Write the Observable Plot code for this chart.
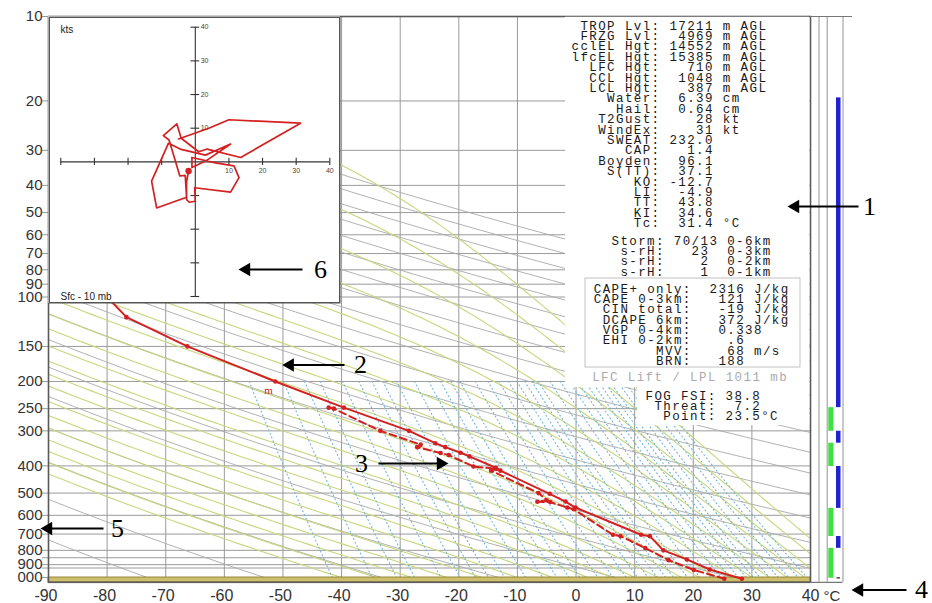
<!DOCTYPE html>
<html>
<head>
<meta charset="utf-8">
<script src="https://cdn.jsdelivr.net/npm/d3@7"></script>
<script src="https://cdn.jsdelivr.net/npm/@observablehq/plot@0.6"></script>
<style>
  html, body { margin:0; padding:0; background:#fff; }
  #wrap { position:relative; width:932px; height:603px; overflow:hidden; background:#fff; }
  #wrap > svg { position:absolute; left:0; top:0; }
  #wrap g[font-family*="Mono"] text { letter-spacing: 1.4px; }
</style>
</head>
<body>
<div id="wrap"></div>
<script>
// ================= DATA =================
const tempTicksC = [-90,-80,-70,-60,-50,-40,-30,-20,-10,0,10,20,30,40];
const tempTickLabels = ["-90","-80","-70","-60","-50","-40","-30","-20","-10","0","10","20","30","40"];
const presTicks = [10,20,30,40,50,60,70,80,90,100,150,200,250,300,400,500,600,700,800,900,1000];
const presTickLabels = ["10","20","30","40","50","60","70","80","90","100","150","200","250","300","400","500","600","700","800","900","000"];
const presExtraGrid = [850, 925];

// environmental temperature profile (solid red)
const envP = [1010, 936, 862, 800, 712, 704, 563, 536, 503, 416, 406, 370, 359, 343, 332, 300, 248, 200, 150, 118, 100];
const envT = [28.3, 22.8, 18.9, 14.9, 12.6, 11.1, -0.1, -1.8, -4.5, -12.9, -13.7, -18.2, -19.7, -22.3, -24.0, -28.5, -39.6, -51.3, -66.3, -76.7, -80.0];
// dew point profile (dashed red)
const dewP = [1010, 940, 867, 785, 712, 704, 571, 563, 538, 537, 530, 500, 416, 410, 402, 366, 360, 343, 336, 300, 250, 248];
const dewT = [25.3, 20.1, 15.8, 11.8, 7.6, 6.3, -0.4, -1.5, -4.4, -6.6, -5.0, -6.4, -14.5, -13.6, -17.5, -21.7, -23.1, -27.1, -26.5, -33.4, -41.3, -42.2];

// diagram isopleths
const dryAdiabatThetaK = [200,220,240,260,280,300,320,340,360,380,400,420,440,460,480,500,520,540,560,580,600];
const moistAdiabatThetaWC = [-40,-34,-28,-22,-16,-10,-4,2,6,10,14,18,21,24,27,30,33,36,39,42,45,48];
const mixingRatioGkg = [0.1,0.2,0.3,0.4,0.6,0.8,1,1.2,1.5,2,2.5,3,3.5,4,5,6,7,8,9,10,11,12,14,16,18,20,22,24,26,28,30,33,36,40,44,48];

// hodograph (kts)
const hodoU = [-2.0,-2.6,-2.6,-1.8,0.0,-0.2,10.5,13.0,11.5,6.0,-1.0,-1.0,3.5,10.5,3.0,-4.5,-8.0,-13.0,-11.5,-2.6,-3.0,-4.6,-7.8,-9.5,-5.5,-4.2,1.0,3.5,13.5,31.3,10.0,4.0,-5.0];
const hodoV = [-2.7,-6.0,-11.2,-12.0,-11.7,-7.7,-9.0,-4.7,-1.2,-0.3,1.3,-1.7,0.5,5.3,2.0,3.8,5.5,-5.7,-13.7,-10.5,-4.0,-4.2,6.5,7.8,11.3,7.0,3.0,3.8,1.3,11.5,12.5,10.0,6.8];
const hodoAxisValues = [10,20,30,40];
const hodoAxisLabels = ["10","20","30","40"];

// right-hand column bars (pressure ranges, mb)
const blueTopP = [19.5, 301, 402, 714];
const blueBotP = [248, 332, 567, 787];
const greenTopP = [248, 332, 567, 787];
const greenBotP = [301, 402, 714, 1006];

// text panels
const statsMain = [
" TROP Lvl: 17211 m AGL",
" FRZG Lvl:  4969 m AGL",
"cclEL Hgt: 14552 m AGL",
"lfcEL Hgt: 15385 m AGL",
"  LFC Hgt:   710 m AGL",
"  CCL Hgt:  1048 m AGL",
"  LCL Hgt:   387 m AGL",
"    Water:  6.39 cm",
"     Hail:  0.64 cm",
"   T2Gust:    28 kt",
"   WindEx:    31 kt",
"    SWEAT: 232.0",
"      CAP:   1.4",
"   Boyden:  96.1",
"    S(TT):  37.1",
"       KO: -12.7",
"       LI:  -4.9",
"       TT:  43.8",
"       KI:  34.6",
"       Tc:  31.4 °C"];
const statsStorm = [
"Storm: 70/13 0-6km",
" s-rH:   23  0-3km",
" s-rH:    2  0-2km",
" s-rH:    1  0-1km"];
const statsCape = [
"CAPE+ only:  2316 J/kg",
"CAPE 0-3km:   121 J/kg",
" CIN total:   -19 J/kg",
" DCAPE 6km:   372 J/kg",
" VGP 0-4km:   0.338",
" EHI 0-2km:    .6",
"       MVV:    68 m/s",
"       BRN:   188"];
const liftLine = ["LFC Lift / LPL 1011 mb"];
const statsFog = [
"FOG FSI: 38.8",
" Threat:  7.2",
"  Point: 23.5°C"];
const calloutLabels = ["1","2","3","4","5","6"];

// ================= BUILD =================
const RED = "#d42020";
const SANS = "'Liberation Sans', Arial, sans-serif";
const MONO = "'Liberation Mono', 'DejaVu Sans Mono', monospace";
const xs = d3.scaleLinear().domain([-90,40]).range([48,810]);
const cx = px => xs.invert(px);
const xLabel = new Map(tempTicksC.map((d,i)=>[d, tempTickLabels[i]]));
const pLabel = new Map(presTicks.map((d,i)=>[d, presTickLabels[i]]));

const env = envP.map((p,i)=>({p, t: envT[i]}));
const dew = dewP.map((p,i)=>({p, t: dewT[i]}));

// dry adiabats
const dry = [];
dryAdiabatThetaK.forEach((th,id)=>{
  for (let i=0;i<=90;i++){ const p = 1040*Math.pow(10/1040, i/90); dry.push({id, p, t: th*Math.pow(p/1000,0.2857)-273.15}); }
});
// pseudo-adiabats
function satVap(tc){ return 6.112*Math.exp(17.67*tc/(tc+243.5)); }
function moistRate(T, L){
  const p = Math.exp(L), e = satVap(T-273.15);
  const rs = 0.622*e/Math.max(p-e, 0.3*p);
  return (287.04*T + 2.501e6*rs)/(1005.7 + 2.501e6*2.501e6*rs*0.622/(287.04*T*T));
}
const moist = [];
moistAdiabatThetaWC.forEach((tw,id)=>{
  const down = [];
  let Td = tw+273.15, Ld = Math.log(1000); const hd = Math.log(1.04)/4;
  for (let k=0;k<4;k++){ Td += hd*moistRate(Td,Ld); Ld += hd; down.push({id, p:Math.exp(Ld), t:Td-273.15}); }
  down.reverse().forEach(d=>moist.push(d));
  moist.push({id, p:1000, t:tw});
  let T = tw+273.15, L = Math.log(1000); const h = -0.01; let s = 0;
  while (L > Math.log(10)) {
    if (satVap(T-273.15) > 0.5*Math.exp(L)) break;
    const k1=moistRate(T,L), k2=moistRate(T+h*k1/2,L+h/2), k3=moistRate(T+h*k2/2,L+h/2), k4=moistRate(T+h*k3,L+h);
    T += h*(k1+2*k2+2*k3+k4)/6; L += h; s++;
    if (!isFinite(T) || T < 150) break;
    if (s%3===0) moist.push({id, p:Math.exp(L), t:T-273.15});
  }
});
// mixing ratio lines
const mix = [];
mixingRatioGkg.forEach((w,id)=>{
  for (let i=0;i<=30;i++){ const p = 200*Math.pow(1040/200, i/30); const e = w*p/(622+w); const L = Math.log(e/6.112); mix.push({id, p, t:243.5*L/(17.67-L)}); }
});

const blue = blueTopP.map((p,i)=>({top:p, bot:blueBotP[i]}));
const green = greenTopP.map((p,i)=>({top:p, bot:greenBotP[i]}));

const main = Plot.plot({
  width:932, height:603,
  marginLeft:48, marginRight:122, marginTop:16, marginBottom:21.2,
  x:{domain:[-90,40], axis:null},
  y:{type:"log", domain:[10,1040], reverse:true, axis:null},
  style:{background:"#fff", fontFamily:SANS, overflow:"visible"},
  marks:[
    Plot.gridX(tempTicksC.slice(1,-1), {stroke:"#9a9a9a", strokeOpacity:1, strokeWidth:1}),
    Plot.gridY(presTicks.concat(presExtraGrid), {stroke:"#9a9a9a", strokeOpacity:1, strokeWidth:1}),
    Plot.ruleY(presTicks.concat(presExtraGrid), {x1:()=>cx(42), x2:()=>-90, stroke:"#9a9a9a"}),
    Plot.line(dry, {x:"t", y:"p", z:"id", stroke:"#a9a9a9", strokeWidth:0.9, clip:true}),
    Plot.line(moist, {x:"t", y:"p", z:"id", stroke:"#c7d77c", strokeWidth:1.1, clip:true}),
    Plot.line(mix, {x:"t", y:"p", z:"id", stroke:"#6fb4da", strokeWidth:1.1, strokeDasharray:"1,3", clip:true}),
    Plot.rect([0], {x1:()=>-90, x2:()=>40, y1:()=>1000, y2:()=>1040, fill:"#cdbf6c", stroke:"#958838", strokeWidth:1}),
    Plot.line(env, {x:"t", y:"p", stroke:RED, strokeWidth:2}),
    Plot.dot(env, {x:"t", y:"p", r:2.3, fill:RED}),
    Plot.line(dew, {x:"t", y:"p", stroke:RED, strokeWidth:2, strokeDasharray:"7,4"}),
    Plot.dot(dew, {x:"t", y:"p", r:2.3, fill:RED}),
    Plot.frame({stroke:"#5a5a5a", strokeWidth:1.6}),
    // right column
    Plot.ruleX([cx(818.5), cx(826.7), cx(842.5)], {y1:()=>10, y2:()=>1040, stroke:"#9d9d9d", strokeWidth:1.1}),
    Plot.ruleY([10], {x1:()=>40, x2:()=>cx(852), stroke:"#777", strokeWidth:1.2}),
    Plot.ruleY([1040], {x1:()=>40, x2:()=>cx(842.5), stroke:"#777", strokeWidth:1.2}),
    Plot.rect(blue, {x1:()=>cx(836), x2:()=>cx(840.5), y1:"top", y2:"bot", fill:"#2121cf"}),
    Plot.rect(green, {x1:()=>cx(828.3), x2:()=>cx(833.5), y1:"top", y2:"bot", fill:"#3fe03f"}),
    Plot.rect([0], {x1:()=>cx(836.5), x2:()=>cx(840), y1:()=>1002, y2:()=>1012, fill:"#222"}),
    // axis labels
    Plot.text(tempTicksC.filter(d=>d!==0), {x:d=>d, y:()=>1040, dy:13.5, dx:9, textAnchor:"end", text:d=>xLabel.get(d), fontSize:16, fill:"#333", lineAnchor:"middle"}),
    Plot.text([0], {x:d=>d, y:()=>1040, dy:13.5, text:d=>xLabel.get(d), fontSize:16, fill:"#333", lineAnchor:"middle"}),
    Plot.text(presTicks, {x:()=>-90, y:d=>d, dx:-6, textAnchor:"end", text:d=>pLabel.get(d), fontSize:15, fill:"#333", lineAnchor:"middle"})
  ]
});

const hodoPts = hodoU.map((u,i)=>({u, v:hodoV[i]}));
const kTicks = [-40,-30,-20,-10,10,20,30,40];
const hodo = Plot.plot({
  width:292, height:287, margin:0,
  x:{domain:[-40,40], range:[12.3,281.3], axis:null},
  y:{domain:[-40,40], range:[280,10.7], axis:null},
  style:{background:"#fff", fontFamily:SANS, overflow:"visible"},
  marks:[
    Plot.frame({stroke:"#555", strokeWidth:1.5, inset:0.75}),
    Plot.ruleY([0], {x1:()=>-40, x2:()=>40, stroke:"#333", strokeWidth:1.1}),
    Plot.ruleX([0], {y1:()=>-40, y2:()=>40, stroke:"#333", strokeWidth:1.1}),
    Plot.ruleX(kTicks, {y1:()=>-1.05, y2:()=>1.05, stroke:"#333", strokeWidth:1.1}),
    Plot.ruleY(kTicks, {x1:()=>-1.3, x2:()=>1.3, stroke:"#333", strokeWidth:1.1}),
    Plot.text(hodoAxisValues, {x:d=>d, y:()=>-2.7, text:(d,i)=>hodoAxisLabels[i], fontSize:7, fill:"#444"}),
    Plot.text(hodoAxisValues, {x:()=>1.6, y:d=>d, text:(d,i)=>hodoAxisLabels[i], textAnchor:"start", fontSize:7, fill:"#444"}),
    Plot.line(hodoPts, {x:"u", y:"v", stroke:RED, strokeWidth:1.7}),
    Plot.dot([hodoPts[0]], {x:"u", y:"v", r:3.2, fill:RED}),
    Plot.text(["kts"], {frameAnchor:"top-left", dx:12, dy:13, textAnchor:"start", lineAnchor:"middle", fontSize:10, fill:"#222"}),
    Plot.text(["Sfc - 10 mb"], {frameAnchor:"bottom-left", dx:12, dy:-7, textAnchor:"start", lineAnchor:"middle", fontSize:10, fill:"#222"})
  ]
});
hodo.style.left = "48px"; hodo.style.top = "16px";

// overlay: panels, statistics text and callouts (pixel coordinates)
const FS = 12.5;
const nb = s => s.replace(/ /g, "\u00a0");
function monoBlock(lines, x0, y0, step, fill){
  return Plot.text(lines, {x:()=>x0, y:(d,i)=>y0+i*step, text:d=>nb(d), textAnchor:"start", lineAnchor:"middle", fontFamily:MONO, fontSize:FS, fill: fill || "#1a1a1a"});
}
const callouts = [
  {n:calloutLabels[0], tail:858, tip:787,   y:206,   nx:869},
  {n:calloutLabels[1], tail:344, tip:281.7, y:364.5, nx:360},
  {n:calloutLabels[2], tail:378, tip:448,   y:463,   nx:361},
  {n:calloutLabels[3], tail:906, tip:851,   y:589.5, nx:921},
  {n:calloutLabels[4], tail:103, tip:40,    y:528,   nx:117},
  {n:calloutLabels[5], tail:302, tip:238,   y:269,   nx:320}
];
const HEAD = 7.8;
const overlay = Plot.plot({
  width:932, height:603, margin:0,
  x:{domain:[0,932], range:[0,932], axis:null},
  y:{domain:[0,603], range:[0,603], axis:null},
  style:{background:"transparent", fontFamily:SANS, overflow:"visible"},
  marks:[
    Plot.rect([{a:565,b:809.2,c:16.8,d:387},{a:637,b:809.2,c:387,d:425}], {x1:"a", x2:"b", y1:"c", y2:"d", fill:"#fff"}),
    Plot.rect([{a:585,b:800,c:278,d:367}], {x1:"a", x2:"b", y1:"c", y2:"d", fill:"none", stroke:"#c2c2c2", strokeWidth:1}),
    monoBlock(statsMain, 571, 25, 10.4),
    monoBlock(statsStorm, 611, 240.5, 10.2),
    monoBlock(statsCape, 593.3, 288.3, 10.3),
    monoBlock(liftLine, 591.7, 376.7, 10, "#ababab"),
    monoBlock(statsFog, 645, 395, 10),
    Plot.text(["m"], {x:()=>268, y:()=>390, text:d=>d, fill:RED, fontSize:11, fontFamily:"'Liberation Serif', serif", lineAnchor:"middle"}),
    Plot.text(["°C"], {x:()=>831.5, y:()=>595.3, text:d=>d, fill:"#333", fontSize:15, lineAnchor:"middle"}),
    Plot.link(callouts, {x1:"tail", x2:d=>d.tip + (d.tail>d.tip?1:-1)*HEAD, y1:"y", y2:"y", stroke:"#000", strokeWidth:2}),
    Plot.dot(callouts, {x:d=>d.tip + (d.tail>d.tip?1:-1)*HEAD, y:"y", symbol:"triangle", r:5, fill:"#000", rotate:d=>d.tail>d.tip?-90:90}),
    Plot.text(callouts, {x:"nx", y:"y", text:"n", fontFamily:"'Liberation Serif', serif", fontSize:26, fill:"#000", lineAnchor:"middle"})
  ]
});
overlay.style.pointerEvents = "none";

const wrap = document.getElementById("wrap");
wrap.appendChild(main);
wrap.appendChild(hodo);
wrap.appendChild(overlay);
</script>
</body>
</html>
